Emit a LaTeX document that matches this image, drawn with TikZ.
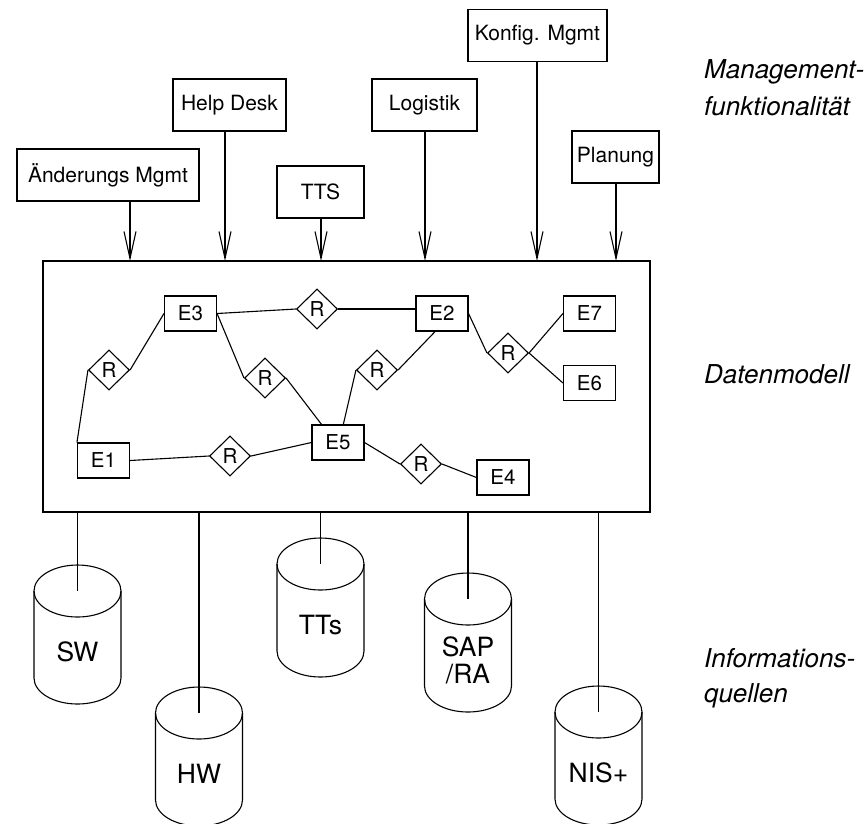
\documentclass[tikz,border=0pt]{standalone}
\usepackage{fontspec}
\setmainfont{TeX Gyre Heros}
\usetikzlibrary{shapes.geometric,arrows.meta,calc}

% database cylinder: #1 name, #2 x, #3 y of top-ellipse centre, #4 label
\newcommand{\dbcylinder}[4]{%
  \coordinate (#1top) at (#2,#3);
  \draw[line] (#2,#3) ellipse [x radius=43.5, y radius=26];
  \draw[line] (#2-43.5,#3) -- (#2-43.5,#3-87)
     arc[start angle=180, end angle=360, x radius=43.5, y radius=26]
     -- (#2+43.5,#3);
  \node[dblabel] (#1) at (#2,#3-61) {#4};
}

\begin{document}
\begin{tikzpicture}[x=1pt,y=1pt,
  line/.style={line width=1.1pt},
  func/.style={draw, line, minimum height=52pt, inner sep=2pt,
               font=\fontsize{21}{25}\selectfont},
  entity/.style={draw, line, minimum width=52pt, minimum height=35pt,
                 inner sep=1pt, font=\fontsize{20.5}{22}\selectfont},
  rel/.style={diamond, draw, line, inner sep=0pt, minimum width=41pt,
              minimum height=40pt, font=\fontsize{20.5}{22}\selectfont},
  dblabel/.style={align=center, inner sep=0pt,
                  font=\fontsize{26.5}{27}\selectfont},
  side/.style={anchor=base west, inner sep=0pt,
               font=\fontsize{26}{30}\selectfont\itshape},
  arr/.style={line, -{Straight Barb[length=27pt, width=12pt]}}]

\useasboundingbox (0,0) rectangle (866,-823);

% management functions
\node[func, minimum width=182pt] (aend) at (108,-175)   {Änderungs Mgmt};
\node[func, minimum width=113pt] (help) at (229.5,-105) {Help Desk};
\node[func, minimum width=87pt]  (tts)  at (320.5,-192) {TTS};
\node[func, minimum width=105pt] (logi) at (424.5,-105) {Logistik};
\node[func, minimum width=139pt] (konf) at (537.5,-35.5) {Konfig. Mgmt};
\node[func, minimum width=87pt]  (plan) at (615.5,-157) {Planung};

% data model frame
\node[draw, line, minimum width=607pt, minimum height=251pt, inner sep=0pt]
  (model) at (346.5,-386.5) {};

\coordinate (t1) at (130,-261);
\coordinate (t2) at (225,-261);
\coordinate (t3) at (321,-261);
\coordinate (t4) at (425,-261);
\coordinate (t5) at (537,-261);
\coordinate (t6) at (616,-261);

\draw[arr] (aend.south -| t1) -- (t1);
\draw[arr] (help.south -| t2) -- (t2);
\draw[arr] (tts.south -| t3)  -- (t3);
\draw[arr] (logi.south -| t4) -- (t4);
\draw[arr] (konf.south -| t5) -- (t5);
\draw[arr] (plan.south -| t6) -- (t6);

% entities
\node[entity] (e3) at (190.5,-313.5) {E3};
\node[entity] (e1) at (103.5,-460.5) {E1};
\node[entity] (e5) at (338,-442.5)   {E5};
\node[entity] (e2) at (442,-313.5)   {E2};
\node[entity] (e7) at (589.5,-313.5) {E7};
\node[entity] (e6) at (589.5,-383)   {E6};
\node[entity] (e4) at (503,-477.5)   {E4};

% relationships
\node[rel] (r1) at (109,-370) {R};
\node[rel] (r2) at (317,-309) {R};
\node[rel] (r3) at (265,-378) {R};
\node[rel] (r4) at (377,-370) {R};
\node[rel] (r5) at (230,-456) {R};
\node[rel] (r6) at (421,-464) {R};
\node[rel] (r7) at (508,-353) {R};

\draw[line] (e1.north west) -- (r1.west);
\draw[line] (r1.east) -- (e3.west);
\draw[line] (e3.east) -- (r2.west);
\draw[line] (r2.east) -- (r2.east -| e2.west);
\draw[line] (e3.east) -- (r3.west);
\draw[line] (r3.east) -- ($(e5.north west)!0.19!(e5.north east)$);
\draw[line] ($(e5.north west)!0.6!(e5.north east)$) -- (r4.west);
\draw[line] (r4.east) -- ($(e2.south west)!0.37!(e2.south east)$);
\draw[line] (e1.east) -- (r5.west);
\draw[line] (r5.east) -- (e5.west);
\draw[line] (e5.east) -- (r6.west);
\draw[line] (r6.east) -- (e4.west);
\draw[line] (e2.east) -- (r7.west);
\draw[line] (r7.east) -- (e7.west);
\draw[line] (r7.east) -- (e6.west);

% information sources
\dbcylinder{sw}{77.5}{-591}{SW}
\dbcylinder{hw}{199}{-713}{HW}
\dbcylinder{tt}{320.5}{-564}{TTs}
\dbcylinder{sap}{468}{-599}{SAP\\/RA}
\dbcylinder{nis}{598.5}{-712}{NIS+}

\draw[line] (swtop |- model.south)  -- (swtop);
\draw[line] (hwtop |- model.south)  -- (hwtop);
\draw[line] (tttop |- model.south)  -- (tttop);
\draw[line] (saptop |- model.south) -- (saptop);
\draw[line] (nistop |- model.south) -- (nistop);

% layer captions
\node[side] (cap1a) at (704,-78)  {Management-};
\node[side] (cap1b) at (704,-115) {funktionalität};
\node[side] (cap2)  at (704,-383) {Datenmodell};
\node[side] (cap3a) at (704,-667) {Informations-};
\node[side] (cap3b) at (704,-702) {quellen};

\end{tikzpicture}
\end{document}
